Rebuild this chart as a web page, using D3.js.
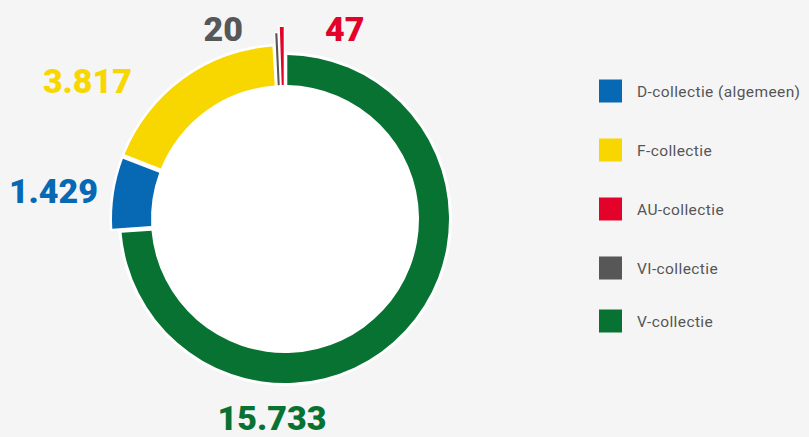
<!DOCTYPE html>
<html>
<head>
<meta charset="utf-8">
<script src="https://cdn.jsdelivr.net/npm/d3@7"></script>
<style>
  body { margin: 0; background: #f5f5f5; }
  svg { display: block; }
  .legend text { font-family: Roboto, sans-serif; font-size: 15.5px; fill: #555; letter-spacing: 0.4px; }
  .value { font-family: Roboto, sans-serif; font-weight: 900; font-size: 34px; }
</style>
</head>
<body>
<div id="chart"></div>
<script>
// legend order
var categories = ['D-collectie (algemeen)', 'F-collectie', 'AU-collectie', 'VI-collectie', 'V-collectie'];
var keys = ['D', 'F', 'AU', 'VI', 'V'];
var values = [1429, 3817, 47, 20, 15733];
var valueLabels = ['1.429', '3.817', '47', '20', '15.733'];

// slice order round the ring, clockwise from the top
var pieOrder = ['V', 'D', 'F', 'VI', 'AU'];

var colors = { D: '#0768b4', F: '#f8d700', AU: '#e3022a', VI: '#575757', V: '#087232' };
var outerRadius = { D: 173, F: 173, AU: 191, VI: 185, V: 164 };
// label anchor relative to centre
var labelPos = {
	V:  { dx: -13, dy: 211, anchor: 'middle' },
	D:  { dx: -187, dy: -16, anchor: 'end' },
	F:  { dx: -153, dy: -126, anchor: 'end' },
	VI: { dx: -42, dy: -178, anchor: 'end' },
	AU: { dx: 40, dy: -178, anchor: 'start' }
};

var width = 809, height = 437,
	cx = 285, cy = 219,
	innerRadius = 134;

var data = keys.map(function (k, i) {
	return { key: k, name: categories[i], value: values[i], label: valueLabels[i] };
});

var svg = d3.select('#chart').append('svg')
	.attr('width', width)
	.attr('height', height);

var g = svg.append('g').attr('transform', 'translate(' + cx + ',' + cy + ')');

var pie = d3.pie()
	.sort(function (a, b) { return pieOrder.indexOf(a.key) - pieOrder.indexOf(b.key); })
	.value(function (d) { return d.value; })
	.padAngle(0.02);

var arcs = pie(data);

var arc = d3.arc()
	.innerRadius(innerRadius)
	.outerRadius(function (d) { return outerRadius[d.data.key]; })
	.padRadius(230);

// white base behind the ring
g.append('circle').attr('r', 167).attr('fill', '#fff');

// white halo round each slice
g.selectAll('.halo')
	.data(arcs).enter()
	.append('path')
	.attr('class', 'halo')
	.attr('d', arc)
	.attr('fill', '#fff')
	.attr('stroke', '#fff')
	.attr('stroke-width', 5)
	.attr('stroke-linejoin', 'round');

// the slices; very thin ones get a stroke in their own colour so they stay visible
g.selectAll('.slice')
	.data(arcs).enter()
	.append('path')
	.attr('class', 'slice')
	.attr('d', arc)
	.attr('fill', function (d) { return colors[d.data.key]; })
	.attr('stroke', function (d) { return (d.endAngle - d.startAngle) < 0.05 ? colors[d.data.key] : 'none'; })
	.attr('stroke-width', 2);

// value labels
g.selectAll('.value')
	.data(arcs).enter()
	.append('text')
	.attr('class', 'value')
	.attr('x', function (d) { return labelPos[d.data.key].dx; })
	.attr('y', function (d) { return labelPos[d.data.key].dy; })
	.attr('text-anchor', function (d) { return labelPos[d.data.key].anchor; })
	.attr('fill', function (d) { return colors[d.data.key]; })
	.text(function (d) { return d.data.label; });

// legend
var legendY = [91, 150, 209, 268, 321];
var legend = svg.append('g').attr('class', 'legend');

var rows = legend.selectAll('g')
	.data(data).enter()
	.append('g')
	.attr('transform', function (d, i) { return 'translate(599,' + legendY[i] + ')'; });

rows.append('rect')
	.attr('x', 0)
	.attr('y', -11.5)
	.attr('width', 23)
	.attr('height', 23)
	.attr('fill', function (d) { return colors[d.key]; });

rows.append('text')
	.attr('x', 38)
	.attr('y', 5.5)
	.text(function (d) { return d.name; });
</script>
</body>
</html>
